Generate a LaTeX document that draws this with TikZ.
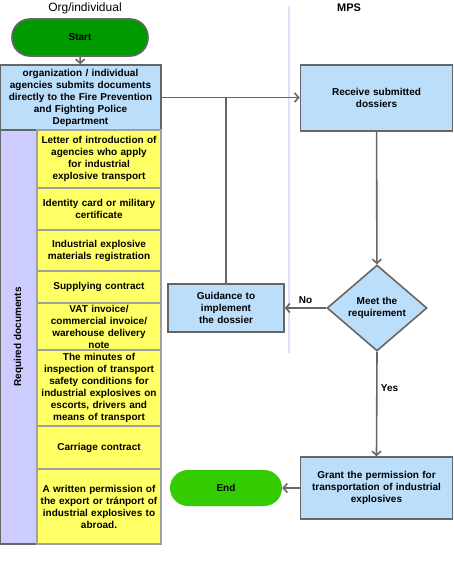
\documentclass[tikz,border=0pt]{standalone}
\usepackage{fontspec}
\setmainfont{Liberation Sans}
\usepackage{xcolor}
\usetikzlibrary{shapes.geometric, arrows.meta, positioning}

\definecolor{boxblue}{RGB}{187,222,251}
\definecolor{docyellow}{RGB}{255,255,102}
\definecolor{lanelilac}{RGB}{204,204,255}
\definecolor{startgreen}{RGB}{0,153,0}
\definecolor{endgreen}{RGB}{51,204,0}
\definecolor{linegray}{RGB}{102,102,102}
\definecolor{docgray}{RGB}{160,160,160}
\definecolor{divlilac}{RGB}{224,224,248}

\begin{document}
\begin{tikzpicture}[
    x=1pt, y=-1pt,
    font=\fontsize{10}{12}\selectfont\bfseries,
    block/.style={rectangle, draw=linegray, line width=1.6pt, fill=boxblue, align=center, inner sep=2pt},
    docbox/.style={rectangle, draw=docgray, line width=1.6pt, fill=docyellow, minimum width=124pt, text width=122pt, align=center, inner sep=0pt, outer sep=0pt},
    lanebox/.style={rectangle, draw=linegray, line width=1.6pt, fill=lanelilac, inner sep=0pt},
    terminal/.style={rectangle, rounded corners=18pt, align=center},
    decision/.style={diamond, draw=linegray, line width=1.6pt, fill=boxblue, align=center, inner sep=0pt, minimum width=100pt, minimum height=86pt},
    arrow/.style={-{Straight Barb[length=4pt, width=9pt]}, draw=linegray, line width=1.6pt},
    plainline/.style={draw=linegray, line width=1.6pt}
]
\useasboundingbox (0,0) rectangle (453,575);

% Lane headers
\node[font=\fontsize{12}{14}\selectfont] (orghead) at (85,8) {Org/individual};
\node[font=\fontsize{11}{13}\selectfont\bfseries] (mpshead) at (349,8) {MPS};
\draw[divlilac, line width=1.2pt] (289,6) -- (289,353);

% Org/individual lane
\node[terminal, draw=linegray, line width=1.6pt, fill=startgreen, minimum width=136pt, minimum height=37pt] (start) at (80,37.5) {Start};
\node[block, minimum width=161pt, minimum height=65pt, text width=157pt] (submit) at (80.5,97.5) {organization / individual\\agencies submits documents\\directly to the Fire Prevention\\and Fighting Police\\Department};

% Required documents
\node[lanebox, rotate=90, minimum width=414pt, minimum height=37pt] (reqlane) at (18.5,337) {Required documents};
\node[docbox, minimum height=58pt, anchor=north west] (letter) at (37,130) {Letter of introduction of\\agencies who apply\\for industrial\\explosive transport};
\node[docbox, minimum height=42pt, below=0pt of letter] (idcard) {Identity card or military\\certificate};
\node[docbox, minimum height=41pt, below=0pt of idcard] (registr) {Industrial explosive\\materials registration};
\node[docbox, minimum height=32pt, below=0pt of registr] (supply) {Supplying contract};
\node[docbox, minimum height=47pt, below=0pt of supply] (invoice) {VAT invoice/\\commercial invoice/\\warehouse delivery\\note};
\node[docbox, minimum height=76pt, below=0pt of invoice] (minutes) {The minutes of\\inspection of transport\\safety conditions for\\industrial explosives on\\escorts, drivers and\\means of transport};
\node[docbox, minimum height=43pt, below=0pt of minutes] (carriage) {Carriage contract};
\node[docbox, minimum height=75pt, below=0pt of carriage] (permit) {A written permission of\\the export or tr\'anport of\\industrial explosives to\\abroad.};

% MPS lane
\node[block, minimum width=152pt, minimum height=66pt, text width=140pt] (receive) at (376.5,98) {Receive submitted\\dossiers};
\node[decision] (meet) at (377,308) {Meet the\\requirement};
\node[block, minimum width=116pt, minimum height=48pt, text width=110pt] (guide) at (226,308) {Guidance to\\implement\\the dossier};
\node[block, minimum width=152pt, minimum height=62pt, text width=146pt] (grant) at (376.5,488) {Grant the permission for\\transportation of industrial\\explosives};
\node[terminal, fill=endgreen, minimum width=112pt, minimum height=36pt] (finish) at (226,488) {End};

\draw[arrow] (start) -- (submit);
\draw[arrow] (submit.east) -- (submit.east -| receive.west);
\draw[plainline] (guide.north) -- (guide.north |- submit.east);
\draw[arrow] (receive) -- (meet);
\draw[arrow] (meet.west) -- node[above] (nolabel) {No} (guide.east);
\draw[arrow] (meet.south) -- node[right, pos=0.35] (yeslabel) {Yes} (grant.north);
\draw[arrow] (grant.west) -- (finish.east);
\end{tikzpicture}
\end{document}
